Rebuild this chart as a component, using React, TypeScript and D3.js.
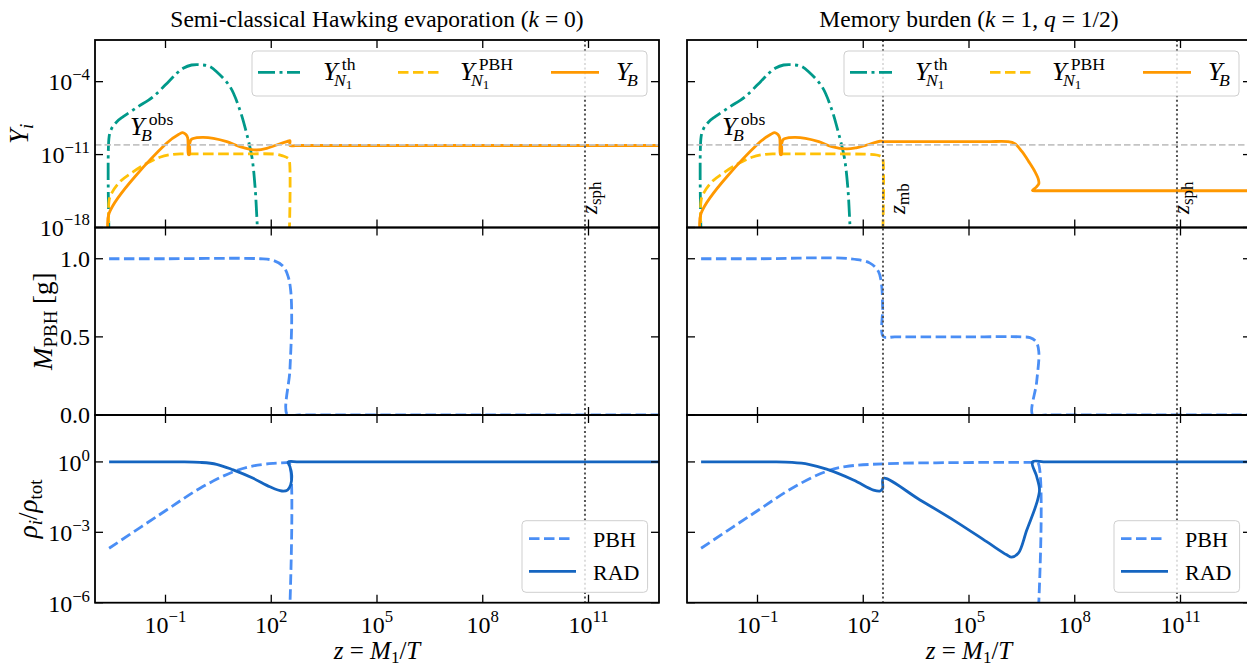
import * as d3 from 'd3'

type Pt = [number, number]

// ---- data ----
// top panels: [log10 z, log10 Y]
const hawkingYth: Pt[] = [
  [-2.6, -19], [-2.6, -9.3], [-2.53, -8.5], [-2.38, -7.84], [-2.2, -7.36], [-1.8, -6.45],
  [-1.35, -5.44], [-0.9, -3.95], [-0.68, -3.2], [-0.5, -2.72], [-0.26, -2.4], [0.07, -2.4],
  [0.26, -2.56], [0.45, -3.04], [0.83, -4.48], [1.11, -6.72], [1.3, -8.96], [1.45, -11.2],
  [1.54, -14.08], [1.6, -17.6], [1.62, -19],
]
const hawkingYpbh: Pt[] = [
  [-2.6, -19], [-2.6, -15.4], [-2.53, -14.72], [-2.29, -13.6], [-1.91, -12.64], [-1.53, -11.84],
  [-1.16, -11.26], [-0.78, -10.97], [-0.4, -10.94], [1.0, -10.94], [2.15, -10.97], [2.34, -11.14],
  [2.48, -11.36], [2.51, -11.5], [2.51, -19],
]
const hawkingYB: Pt[] = [
  [-2.6, -19], [-2.6, -16.64], [-0.97, -9.92], [-0.62, -9.05], [-0.51, -8.9], [-0.42, -9.08],
  [-0.37, -9.4], [-0.35, -11.0], [-0.32, -11.0], [-0.31, -9.9], [-0.26, -9.52], [-0.11, -9.38],
  [0.07, -9.34], [0.36, -9.44], [0.74, -9.76], [1.11, -10.24], [1.4, -10.49], [1.59, -10.56],
  [1.87, -10.4], [2.15, -10.08], [2.44, -9.76], [2.53, -9.67], [2.53, -10.13], [2.7, -10.13],
  [4, -10.13], [8, -10.13], [13.5, -10.13],
]
const burdenYth: Pt[] = [
  [-2.6, -19], [-2.6, -9.3], [-2.53, -8.5], [-2.38, -7.84], [-2.2, -7.36], [-1.8, -6.45],
  [-1.35, -5.44], [-0.9, -3.95], [-0.68, -3.2], [-0.5, -2.72], [-0.26, -2.4], [0.07, -2.4],
  [0.26, -2.56], [0.45, -3.04], [0.83, -4.48], [1.11, -6.72], [1.3, -8.96], [1.46, -11.2],
  [1.56, -14.08], [1.62, -17.6], [1.64, -19],
]
const burdenYpbh: Pt[] = [
  [-2.6, -19], [-2.6, -15.4], [-2.53, -14.72], [-2.29, -13.6], [-1.91, -12.64], [-1.53, -11.84],
  [-1.16, -11.26], [-0.78, -10.97], [-0.4, -10.94], [1.0, -10.94], [2.15, -10.97], [2.38, -11.04],
  [2.52, -11.2], [2.55, -11.3], [2.55, -19],
]
const burdenYB: Pt[] = [
  [-2.6, -19], [-2.6, -16.64], [-0.97, -9.92], [-0.62, -9.05], [-0.51, -8.9], [-0.42, -9.08],
  [-0.37, -9.4], [-0.35, -11.0], [-0.32, -11.0], [-0.31, -9.9], [-0.26, -9.52], [-0.11, -9.38],
  [0.07, -9.34], [0.36, -9.44], [0.74, -9.76], [1.11, -10.24], [1.53, -10.46], [1.8, -10.35],
  [2.1, -10.08], [2.48, -9.72], [2.6, -9.75], [3.5, -9.76], [5.5, -9.76], [6.1, -9.76],
  [6.3, -9.95], [6.5, -10.7], [6.7, -11.7], [6.87, -12.64], [6.97, -13.4], [6.98, -13.8],
  [6.9, -14.15], [6.8, -14.45], [6.95, -14.47], [7.5, -14.47], [10, -14.47], [13.5, -14.47],
]

// middle panels: [log10 z, M_PBH in g]
const hawkingM: Pt[] = [
  [-2.6, 1.0], [-1, 1.0], [1.68, 1.0], [2.06, 0.989], [2.34, 0.951], [2.48, 0.886], [2.55, 0.8],
  [2.58, 0.61], [2.53, 0.29], [2.46, 0.0], [2.8, 0.0], [8, 0.0], [13.5, 0.0],
]
const burdenM: Pt[] = [
  [-2.6, 1.0], [-1, 1.0], [1.62, 1.0], [2.19, 0.972], [2.43, 0.919], [2.52, 0.833], [2.55, 0.684],
  [2.57, 0.502], [2.9, 0.5], [5, 0.5], [6.5, 0.5], [6.73, 0.495], [6.9, 0.47], [6.98, 0.406],
  [6.92, 0.213], [6.81, 0.0], [7.2, 0.0], [10, 0.0], [13.5, 0.0],
]

// bottom panels: [log10 z, log10 rho_i/rho_tot]
const hawkingRhoPbh: Pt[] = [
  [-2.6, -3.68], [-0.97, -2.05], [-0.02, -1.12], [0.92, -0.42], [1.49, -0.17], [2.06, -0.06],
  [2.44, -0.03], [2.51, -0.03], [2.51, -7],
]
const hawkingRhoRad: Pt[] = [
  [-2.6, 0], [-1.5, 0], [-0.6, 0], [-0.02, -0.02], [0.45, -0.1], [0.92, -0.34], [1.49, -0.7],
  [1.96, -1.06], [2.3, -1.24], [2.46, -1.2], [2.55, -0.98], [2.58, -0.56], [2.53, -0.2],
  [2.48, 0], [2.8, 0], [6, 0], [10, 0], [13.5, 0],
]
const burdenRhoPbh: Pt[] = [
  [-2.6, -3.68], [-0.97, -2.05], [-0.02, -1.12], [0.92, -0.42], [1.49, -0.2], [2.57, -0.08],
  [4.55, -0.03], [6.82, -0.02], [6.95, -0.02], [6.95, -7],
]
const burdenRhoRad: Pt[] = [
  [-2.6, 0], [-1.5, 0], [-0.6, 0], [-0.02, -0.02], [0.45, -0.1], [0.96, -0.31], [1.72, -0.77],
  [2.29, -1.2], [2.48, -1.24], [2.55, -1.13], [2.57, -0.7], [3.61, -1.62], [4.55, -2.47],
  [5.5, -3.4], [6.07, -3.96], [6.21, -4.06], [6.4, -3.89], [6.64, -2.9], [6.92, -1.76],
  [7.0, -1.19], [6.92, -0.62], [6.8, 0], [7.2, 0], [10, 0], [13.5, 0],
]

// ticks and markers
const xTickExps = [-1, 2, 5, 8, 11]
const yTopTickExps = [-18, -11, -4]
const mTicks = [0, 0.5, 1.0]
const rhoTickExps = [-6, -3, 0]
const logZsph = 10.9
const logZmb = 2.56
const logYobs = -10.06

// ---- layout ----
const W = 1247
const H = 666
const COLS = [
  { left: 95, right: 659 },
  { left: 687, right: 1251 },
]
const ROWS = [
  { top: 40, bottom: 227.5 },
  { top: 227.5, bottom: 415 },
  { top: 415, bottom: 602.7 },
]

const C_TH = '#00998a'
const C_PBHN = '#ffc107'
const C_YB = '#ff9800'
const C_PBH = '#4a8ef5'
const C_RAD = '#1565c0'
const LW = 2.8
const DASH = '10.5,4.5'
const DASHDOT = '17,4.5,3,4.5'
const TICK = 8

const FONT = "'Liberation Serif', 'Times New Roman', 'DejaVu Serif', serif"

const fmtExp = (e: number) => (e < 0 ? '\u2212' + Math.abs(e) : String(e))
const pow10 = (pts: Pt[]): Pt[] => pts.map(([a, b]) => [10 ** a, 10 ** b])
const powX = (pts: Pt[]): Pt[] => pts.map(([a, b]) => [10 ** a, b])

function Pow({ x, y, e, anchor, size = 24 }: { x: number; y: number; e: number; anchor: string; size?: number }) {
  return (
    <text x={x} y={y} textAnchor={anchor} fontSize={size}>
      10
      <tspan dy={-size * 0.42} fontSize={size * 0.7}>{fmtExp(e)}</tspan>
    </text>
  )
}

// Y with optional stacked super/subscript
function YSym({ x, y, sup, sub, subsub, size = 26 }: { x: number; y: number; sup?: string; sub?: string; subsub?: string; size?: number }) {
  return (
    <g>
      <text x={x} y={y} fontStyle="italic" fontSize={size}>Y</text>
      {sup && (
        <text x={x + size * 0.72} y={y - size * 0.38} fontSize={size * 0.68}>{sup}</text>
      )}
      {sub && (
        <text x={x + size * 0.42} y={y + size * 0.24} fontSize={size * 0.68}>
          <tspan fontStyle="italic">{sub}</tspan>
          {subsub && <tspan fontSize={size * 0.5} dy={size * 0.1}>{subsub}</tspan>}
        </text>
      )}
    </g>
  )
}

function Frame({ left, right, top, bottom, yTicks }: { left: number; right: number; top: number; bottom: number; yTicks: number[] }) {
  const x = d3.scaleLog().domain([1e-3, 1e13]).range([left, right])
  return (
    <g stroke="#000" strokeWidth={1.3}>
      {xTickExps.map(e => (
        <g key={'x' + e}>
          <line x1={x(10 ** e)} x2={x(10 ** e)} y1={bottom} y2={bottom - TICK} />
          <line x1={x(10 ** e)} x2={x(10 ** e)} y1={top} y2={top + TICK} />
        </g>
      ))}
      {yTicks.map((v, i) => (
        <g key={'y' + i}>
          <line x1={left} x2={left + TICK} y1={v} y2={v} />
          <line x1={right} x2={right - TICK} y1={v} y2={v} />
        </g>
      ))}
      <rect x={left} y={top} width={right - left} height={bottom - top} fill="none" strokeWidth={1.8} />
    </g>
  )
}

function Column({ ci, title, Yth, Ypbh, YB, M, rhoPbh, rhoRad, vlines }: {
  ci: number
  title: JSX.Element
  Yth: Pt[]
  Ypbh: Pt[]
  YB: Pt[]
  M: Pt[]
  rhoPbh: Pt[]
  rhoRad: Pt[]
  vlines: { z: number; label: string; dx: number }[]
}) {
  const { left, right } = COLS[ci]
  const cx = (left + right) / 2
  const x = d3.scaleLog().domain([1e-3, 1e13]).range([left, right])
  const yTop = d3.scaleLog().domain([1e-18, 1]).range([ROWS[0].bottom, ROWS[0].top])
  const yMid = d3.scaleLinear().domain([0, 1.2]).range([ROWS[1].bottom, ROWS[1].top])
  const yBot = d3.scaleLog().domain([1e-6, 1e2]).range([ROWS[2].bottom, ROWS[2].top])
  const curve = d3.curveCatmullRom.alpha(0.5)
  const lTop = d3.line<Pt>().x(d => x(d[0])).y(d => yTop(d[1])).curve(curve)
  const lMid = d3.line<Pt>().x(d => x(d[0])).y(d => yMid(d[1])).curve(curve)
  const lBot = d3.line<Pt>().x(d => x(d[0])).y(d => yBot(d[1])).curve(curve)
  const clip = (r: number) => `url(#clip-${ci}-${r})`
  const lx = left + 157

  return (
    <g>
      <defs>
        {ROWS.map((r, i) => (
          <clipPath id={`clip-${ci}-${i}`} key={i}>
            <rect x={left} y={r.top} width={right - left} height={r.bottom - r.top} />
          </clipPath>
        ))}
      </defs>

      <text x={cx} y={27} textAnchor="middle" fontSize={23.5}>{title}</text>

      {/* top panel */}
      <g clipPath={clip(0)} fill="none" strokeWidth={LW}>
        <path d={lTop(pow10(Yth)) ?? ''} stroke={C_TH} strokeDasharray={DASHDOT} />
        <path d={lTop(pow10(Ypbh)) ?? ''} stroke={C_PBHN} strokeDasharray={DASH} />
        <path d={lTop(pow10(YB)) ?? ''} stroke={C_YB} />
        <line x1={left} x2={right} y1={yTop(10 ** logYobs)} y2={yTop(10 ** logYobs)}
          stroke="#c4c4c4" strokeWidth={1.7} strokeDasharray="6.5,3" />
      </g>

      {/* middle panel */}
      <g clipPath={clip(1)} fill="none" strokeWidth={LW}>
        <path d={lMid(powX(M)) ?? ''} stroke={C_PBH} strokeDasharray={DASH} />
      </g>

      {/* bottom panel */}
      <g clipPath={clip(2)} fill="none" strokeWidth={LW}>
        <path d={lBot(pow10(rhoPbh)) ?? ''} stroke={C_PBH} strokeDasharray={DASH} />
        <path d={lBot(pow10(rhoRad)) ?? ''} stroke={C_RAD} />
      </g>

      {/* vertical markers */}
      {vlines.map(v => (
        <g key={v.label}>
          <line x1={x(10 ** v.z)} x2={x(10 ** v.z)} y1={ROWS[0].top} y2={ROWS[2].bottom}
            stroke="#555" strokeWidth={2} strokeDasharray="2,2.6" />
          <text transform={`translate(${x(10 ** v.z) + v.dx},214) rotate(-90)`} fontSize={23}>
            <tspan fontStyle="italic">z</tspan>
            <tspan fontSize={17} dy={4}>{v.label}</tspan>
          </text>
        </g>
      ))}

      <YSym x={left + 35} y={135} sup="obs" sub="B" />

      {/* top legend */}
      <g>
        <rect x={lx} y={51} width={395} height={45} rx={4} fill="#fff" fillOpacity={0.8} stroke="#cfcfcf" />
        <line x1={lx + 6} x2={lx + 48} y1={72.3} y2={72.3} stroke={C_TH} strokeWidth={LW} strokeDasharray={DASHDOT} />
        <line x1={lx + 146} x2={lx + 188} y1={72.3} y2={72.3} stroke={C_PBHN} strokeWidth={LW} strokeDasharray={DASH} />
        <line x1={lx + 299} x2={lx + 347} y1={72.3} y2={72.3} stroke={C_YB} strokeWidth={LW} />
        <YSym x={lx + 71} y={80} sup="th" sub="N" subsub="1" />
        <YSym x={lx + 208} y={80} sup="PBH" sub="N" subsub="1" />
        <YSym x={lx + 364} y={80} sub="B" />
      </g>

      {/* bottom legend */}
      <g>
        <rect x={left + 427} y={520.7} width={125.6} height={71.6} rx={4} fill="#fff" fillOpacity={0.8} stroke="#cfcfcf" />
        <line x1={left + 434} x2={left + 479} y1={538.7} y2={538.7} stroke={C_PBH} strokeWidth={LW} strokeDasharray={DASH} />
        <line x1={left + 434} x2={left + 481} y1={571.3} y2={571.3} stroke={C_RAD} strokeWidth={LW} />
        <text x={left + 498} y={547} fontSize={22}>PBH</text>
        <text x={left + 498} y={579.5} fontSize={22}>RAD</text>
      </g>

      <Frame left={left} right={right} top={ROWS[0].top} bottom={ROWS[0].bottom}
        yTicks={yTopTickExps.map(e => yTop(10 ** e))} />
      <Frame left={left} right={right} top={ROWS[1].top} bottom={ROWS[1].bottom}
        yTicks={mTicks.map(v => yMid(v))} />
      <Frame left={left} right={right} top={ROWS[2].top} bottom={ROWS[2].bottom}
        yTicks={rhoTickExps.map(e => yBot(10 ** e))} />

      {/* x tick labels + label */}
      {xTickExps.map(e => (
        <Pow key={e} x={x(10 ** e)} y={632.5} e={e} anchor="middle" />
      ))}
      <text x={cx} y={659} textAnchor="middle" fontSize={25}>
        <tspan fontStyle="italic">z</tspan> = <tspan fontStyle="italic">M</tspan>
        <tspan fontSize={17} dy={4}>1</tspan>
        <tspan dy={-4}>/</tspan>
        <tspan fontStyle="italic">T</tspan>
      </text>

      {ci === 0 && (
        <g>
          {yTopTickExps.map(e => (
            <Pow key={e} x={90} y={yTop(10 ** e) + 8} e={e} anchor="end" />
          ))}
          {mTicks.map(v => (
            <text key={v} x={90} y={yMid(v) + 8} textAnchor="end" fontSize={24}>{v.toFixed(1)}</text>
          ))}
          {rhoTickExps.map(e => (
            <Pow key={e} x={90} y={yBot(10 ** e) + 9} e={e} anchor="end" />
          ))}
          <text transform={`translate(28,${(ROWS[0].top + ROWS[0].bottom) / 2}) rotate(-90)`} textAnchor="middle" fontSize={27}>
            <tspan fontStyle="italic">Y</tspan>
            <tspan fontStyle="italic" fontSize={19} dy={5}>i</tspan>
          </text>
          <text transform={`translate(52,${(ROWS[1].top + ROWS[1].bottom) / 2}) rotate(-90)`} textAnchor="middle" fontSize={27}>
            <tspan fontStyle="italic">M</tspan>
            <tspan fontSize={19} dy={5}>PBH</tspan>
            <tspan dy={-5}> [g]</tspan>
          </text>
          <text transform={`translate(37,${(ROWS[2].top + ROWS[2].bottom) / 2}) rotate(-90)`} textAnchor="middle" fontSize={27}>
            <tspan fontStyle="italic">ρ</tspan>
            <tspan fontStyle="italic" fontSize={19} dy={5}>i</tspan>
            <tspan dy={-5}>/</tspan>
            <tspan fontStyle="italic">ρ</tspan>
            <tspan fontSize={19} dy={5}>tot</tspan>
          </text>
        </g>
      )}
    </g>
  )
}

export default function App() {
  return (
    <svg width={W} height={H} style={{ position: 'absolute', left: 0, top: 0, fontFamily: FONT }}>
      <style>{`text, tspan { font-family: ${FONT}; }`}</style>
      <rect width={W} height={H} fill="#fff" />
      <Column
        ci={0}
        title={<>Semi-classical Hawking evaporation (<tspan fontStyle="italic">k</tspan> = 0)</>}
        Yth={hawkingYth} Ypbh={hawkingYpbh} YB={hawkingYB} M={hawkingM}
        rhoPbh={hawkingRhoPbh} rhoRad={hawkingRhoRad}
        vlines={[{ z: logZsph, label: 'sph', dx: 12.5 }]}
      />
      <Column
        ci={1}
        title={<>Memory burden (<tspan fontStyle="italic">k</tspan> = 1, <tspan fontStyle="italic">q</tspan> = 1/2)</>}
        Yth={burdenYth} Ypbh={burdenYpbh} YB={burdenYB} M={burdenM}
        rhoPbh={burdenRhoPbh} rhoRad={burdenRhoRad}
        vlines={[{ z: logZmb, label: 'mb', dx: 22 }, { z: logZsph, label: 'sph', dx: 12 }]}
      />
    </svg>
  )
}
